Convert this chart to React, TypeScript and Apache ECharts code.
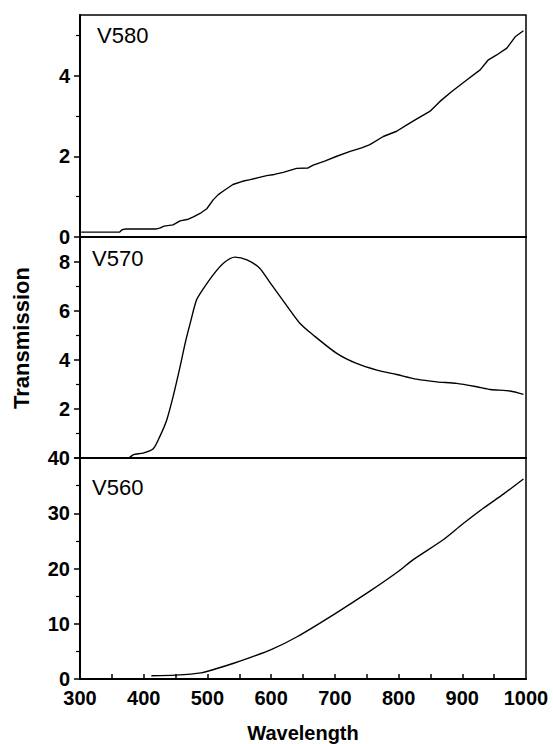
import React, { useEffect, useRef } from "react";
import * as echarts from "echarts";

// V580 (top panel)
const V580_WL = [302, 362, 366, 372, 420, 425, 432, 446, 457, 470, 478, 490, 499, 509, 517, 525, 540, 555, 567, 580, 593, 605, 619, 640, 658, 666, 684, 703, 724, 742, 755, 776, 797, 813, 828, 849, 865, 883, 907, 928, 941, 954, 970, 983, 996];
const V580_T = [0.12, 0.12, 0.18, 0.2, 0.2, 0.22, 0.27, 0.3, 0.4, 0.44, 0.5, 0.6, 0.7, 0.92, 1.05, 1.14, 1.3, 1.38, 1.42, 1.47, 1.52, 1.55, 1.6, 1.7, 1.71, 1.78, 1.88, 2.0, 2.12, 2.21, 2.29, 2.49, 2.62, 2.78, 2.92, 3.11, 3.36, 3.6, 3.89, 4.14, 4.39, 4.51, 4.68, 4.96, 5.11];

// V570 (middle panel)
const V570_WL = [300, 376, 384, 399, 415, 425, 436, 446, 457, 465, 473, 483, 494, 509, 525, 543, 562, 582, 598, 619, 645, 666, 703, 734, 766, 797, 828, 860, 891, 923, 944, 975, 996];
const V570_T = [0, 0, 0.14, 0.2, 0.38, 0.86, 1.54, 2.49, 3.71, 4.67, 5.49, 6.44, 6.91, 7.46, 7.93, 8.18, 8.07, 7.73, 7.15, 6.4, 5.49, 5.01, 4.26, 3.85, 3.58, 3.4, 3.21, 3.1, 3.04, 2.9, 2.79, 2.73, 2.59];

// V560 (bottom panel)
const V560_WL = [412, 450, 490, 515, 540, 570, 600, 640, 700, 755, 800, 823, 870, 900, 933, 965, 996];
const V560_T = [0.6, 0.7, 1.1, 1.9, 2.8, 4.0, 5.3, 7.6, 11.8, 15.9, 19.5, 21.6, 25.2, 28.0, 30.9, 33.5, 36.2];

const PANEL_NAMES = ["V580", "V570", "V560"];
const X_MIN = 300;
const X_MAX = 1000;
const X_LABELS = [300, 400, 500, 600, 700, 800, 900, 1000];
const X_TICKS = [350, 400, 450, 500, 550, 600, 650, 700, 750, 800, 850, 900, 950];
const Y_MAX = [5.5, 9, 40];
const Y_LABELS = [[0, 2, 4], [2, 4, 6, 8], [0, 10, 20, 30, 40]];
const Y_MAJOR = [[0, 2, 4], [0, 2, 4, 6, 8], [0, 10, 20, 30, 40]];
const Y_MINOR = [[1, 3, 5], [1, 3, 5, 7], [5, 15, 25, 35]];

const FONT = "'Liberation Sans', Arial, Helvetica, sans-serif";

const zip = (a: number[], b: number[]) => a.map((v, i) => [v, b[i]]);

export default function App() {
  const ref = useRef<HTMLDivElement>(null);
  useEffect(() => {
    if (!ref.current) return;
    const chart = echarts.init(ref.current, null, { renderer: "svg" });
    const grids = [
      { left: 80, right: 27, top: 15, height: 222 },
      { left: 80, right: 27, top: 237, height: 221 },
      { left: 80, right: 27, top: 458, height: 221 },
    ].map((g) => ({ ...g, show: true, borderColor: "#000", borderWidth: 1.5, backgroundColor: "transparent" }));

    const xAxes: any[] = [0, 1, 2].map((i) => ({
      gridIndex: i,
      type: "value",
      position: "bottom",
      min: X_MIN,
      max: X_MAX,
      interval: 100,
      axisLine: { show: true, onZero: false, lineStyle: { color: "#000", width: 2 } },
      axisTick: { show: false },
      axisLabel: {
        show: i === 2,
        customValues: X_LABELS,
        formatter: (v: number) => String(v),
        color: "#000",
        fontSize: 20,
        fontWeight: "bold",
        fontFamily: FONT,
        margin: 9,
      },
      splitLine: { show: false },
      name: i === 2 ? "Wavelength" : "",
      nameLocation: "middle",
      nameGap: 44,
      nameTextStyle: { color: "#000", fontSize: 20, fontWeight: "bold", fontFamily: FONT },
    }));
    // tick-only x axis on the bottom panel (inward ticks every 50)
    xAxes.push({
      gridIndex: 2,
      type: "value",
      position: "bottom",
      offset: 0,
      min: X_MIN,
      max: X_MAX,
      axisLine: { show: false, onZero: false },
      axisTick: { show: true, inside: true, length: 5, customValues: X_TICKS, lineStyle: { color: "#000", width: 1.5 } },
      axisLabel: { show: false },
      splitLine: { show: false },
    });

    const yAxes: any[] = [];
    [0, 1, 2].forEach((i) => {
      yAxes.push({
        gridIndex: i,
        type: "value",
        position: "left",
        min: 0,
        max: Y_MAX[i],
        axisLine: { show: true, onZero: false, lineStyle: { color: "#000", width: 2 } },
        axisTick: { show: true, inside: false, length: 6, customValues: Y_MAJOR[i], lineStyle: { color: "#000", width: 1.5 } },
        axisLabel: {
          show: true,
          customValues: Y_LABELS[i],
          formatter: (v: number) => String(v),
          color: "#000",
          fontSize: 20,
          fontWeight: "bold",
          fontFamily: FONT,
          margin: 10,
        },
        splitLine: { show: false },
      });
      yAxes.push({
        gridIndex: i,
        type: "value",
        position: "left",
        offset: 0,
        min: 0,
        max: Y_MAX[i],
        axisLine: { show: false },
        axisTick: { show: true, inside: false, length: 4, customValues: Y_MINOR[i], lineStyle: { color: "#000", width: 1.2 } },
        axisLabel: { show: false },
        splitLine: { show: false },
      });
    });

    const seriesData = [zip(V580_WL, V580_T), zip(V570_WL, V570_T), zip(V560_WL, V560_T)];
    const series = seriesData.map((d, i) => ({
      type: "line",
      name: PANEL_NAMES[i],
      xAxisIndex: i,
      yAxisIndex: 2 * i,
      data: d,
      showSymbol: false,
      smooth: i === 0 ? false : 0.25,
      lineStyle: { color: "#000", width: 1.4 },
      silent: true,
    }));

    const panelPos = [
      [97, 24],
      [92, 247],
      [92, 476],
    ];

    chart.setOption({
      animation: false,
      backgroundColor: "#fff",
      grid: grids,
      xAxis: xAxes,
      yAxis: yAxes,
      series,
      graphic: [
        ...PANEL_NAMES.map((n, i) => ({
          type: "text",
          x: panelPos[i][0],
          y: panelPos[i][1],
          style: { text: n, fill: "#000", font: `22px ${FONT}`, align: "left", verticalAlign: "top" },
        })),
        {
          type: "text",
          x: 21,
          y: 338,
          rotation: Math.PI / 2,
          style: { text: "Transmission", fill: "#000", font: `bold 22px ${FONT}`, align: "center", verticalAlign: "middle" },
        },
      ],
    });
    return () => chart.dispose();
  }, []);
  return <div ref={ref} style={{ position: "absolute", left: 0, top: 0, width: 553, height: 744 }} />;
}
